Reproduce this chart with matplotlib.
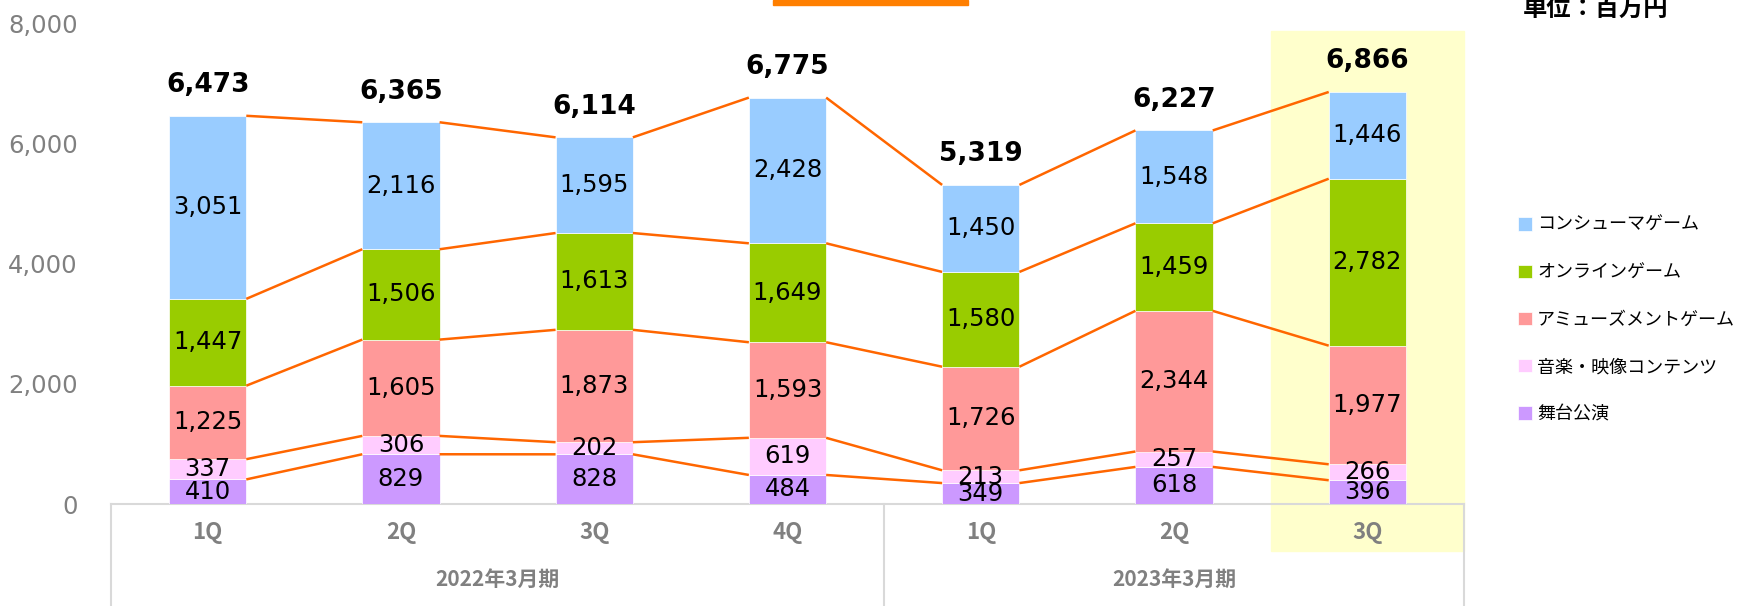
import matplotlib
matplotlib.use("Agg")
import matplotlib.pyplot as plt
from matplotlib.patches import Rectangle
import numpy as np

plt.rcParams["font.family"] = ["DejaVu Sans", "Noto Sans CJK JP"]

# %%
quarters = ["1Q", "2Q", "3Q", "4Q", "1Q", "2Q", "3Q"]
periods = ["2022年3月期", "2023年3月期"]
series_names = ["舞台公演", "音楽・映像コンテンツ", "アミューズメントゲーム", "オンラインゲーム", "コンシューマゲーム"]
stage = [410, 829, 828, 484, 349, 618, 396]
music = [337, 306, 202, 619, 213, 257, 266]
amusement = [1225, 1605, 1873, 1593, 1726, 2344, 1977]
online = [1447, 1506, 1613, 1649, 1580, 1459, 2782]
consumer = [3051, 2116, 1595, 2428, 1450, 1548, 1446]
totals = [6473, 6365, 6114, 6775, 5319, 6227, 6866]
colors = ["#CC99FF", "#FFCCFF", "#FF9999", "#99CC00", "#99CCFF"]
line_color = "#FF6600"
grid_gray = "#D9D9D9"
text_gray = "#808080"

# %%
fig = plt.figure(figsize=(17.49, 6.06), dpi=100)
ax = fig.add_axes([111 / 1749, 1 - 504 / 606, (1464 - 111) / 1749, 480 / 606])

x = np.arange(len(quarters))
width = 0.4
bottom = np.zeros(len(x))
tops = []
for name, vals, c in zip(series_names, [stage, music, amusement, online, consumer], colors):
    vals = np.array(vals)
    ax.bar(x, vals, width, bottom=bottom, color=c, edgecolor="white", linewidth=0.5,
           label=name, zorder=3)
    for xi, b, v in zip(x, bottom, vals):
        ax.text(xi, b + v / 2, f"{v:,}", ha="center", va="center", fontsize=17.5,
                color="black", zorder=5)
    bottom = bottom + vals
    tops.append(bottom.copy())

# connecting lines between bar edges
for t in tops:
    for i in range(len(x) - 1):
        ax.plot([x[i] + width / 2, x[i + 1] - width / 2], [t[i], t[i + 1]],
                color=line_color, lw=1.8, zorder=4, solid_capstyle="butt")

for xi, tot, b in zip(x, totals, bottom):
    ax.annotate(f"{tot:,}", (xi, b), xytext=(0, 22), textcoords="offset points",
                ha="center", va="center", fontsize=19, fontweight="bold", color="black")

# highlight for latest quarter
xt = ax.get_xaxis_transform()
ax.add_patch(Rectangle((5.5, -0.098), 1.0, 1.083, transform=xt, color="#FFFFCC",
                       zorder=0, clip_on=False))

ax.set_xlim(-0.5, 6.5)
ax.set_ylim(0, 8000)
ax.set_yticks(range(0, 8001, 2000))
ax.set_yticklabels([f"{v:,}" for v in range(0, 8001, 2000)], fontsize=17.5, color=text_gray)
ax.tick_params(axis="y", length=0, pad=24)
ax.set_xticks([])
for s in ax.spines.values():
    s.set_visible(False)

# category box below the axis
ax.plot([-0.5, 6.5], [0, 0], color=grid_gray, lw=1.5, transform=xt, clip_on=False, zorder=2)
for xv in [-0.5, 3.5, 6.5]:
    ax.plot([xv, xv], [0, -0.3], color=grid_gray, lw=1.5, transform=xt, clip_on=False)
for xi, q in zip(x, quarters):
    ax.text(xi, -0.06, q, transform=xt, ha="center", va="center", fontsize=16,
            fontweight="bold", color=text_gray, family="Noto Sans CJK JP")
for xc, p in zip([1.5, 5.0], periods):
    ax.text(xc, -0.158, p, transform=xt, ha="center", va="center", fontsize=15,
            fontweight="bold", color=text_gray, family="Noto Sans CJK JP")

# legend (reverse order, consumer on top)
handles, labels = ax.get_legend_handles_labels()
leg = fig.legend(handles[::-1], labels[::-1], loc="upper left",
                 bbox_to_anchor=(1502 / 1749, 1 - 200 / 606), frameon=False,
                 prop={"family": "Noto Sans CJK JP", "size": 13},
                 handlelength=0.75, handleheight=0.75, handletextpad=0.3, labelspacing=1.62)

fig.patches.append(Rectangle((773 / 1749, 1 - 5 / 606), 195 / 1749, 5 / 606,
                             transform=fig.transFigure, color="#FF7F00", figure=fig))
fig.text(1596 / 1749, 1 - 9 / 606, "単位：百万円", ha="center", va="center", fontsize=17.5,
         fontweight="bold", family="Noto Sans CJK JP")

fig.savefig("out.png", dpi=100)
